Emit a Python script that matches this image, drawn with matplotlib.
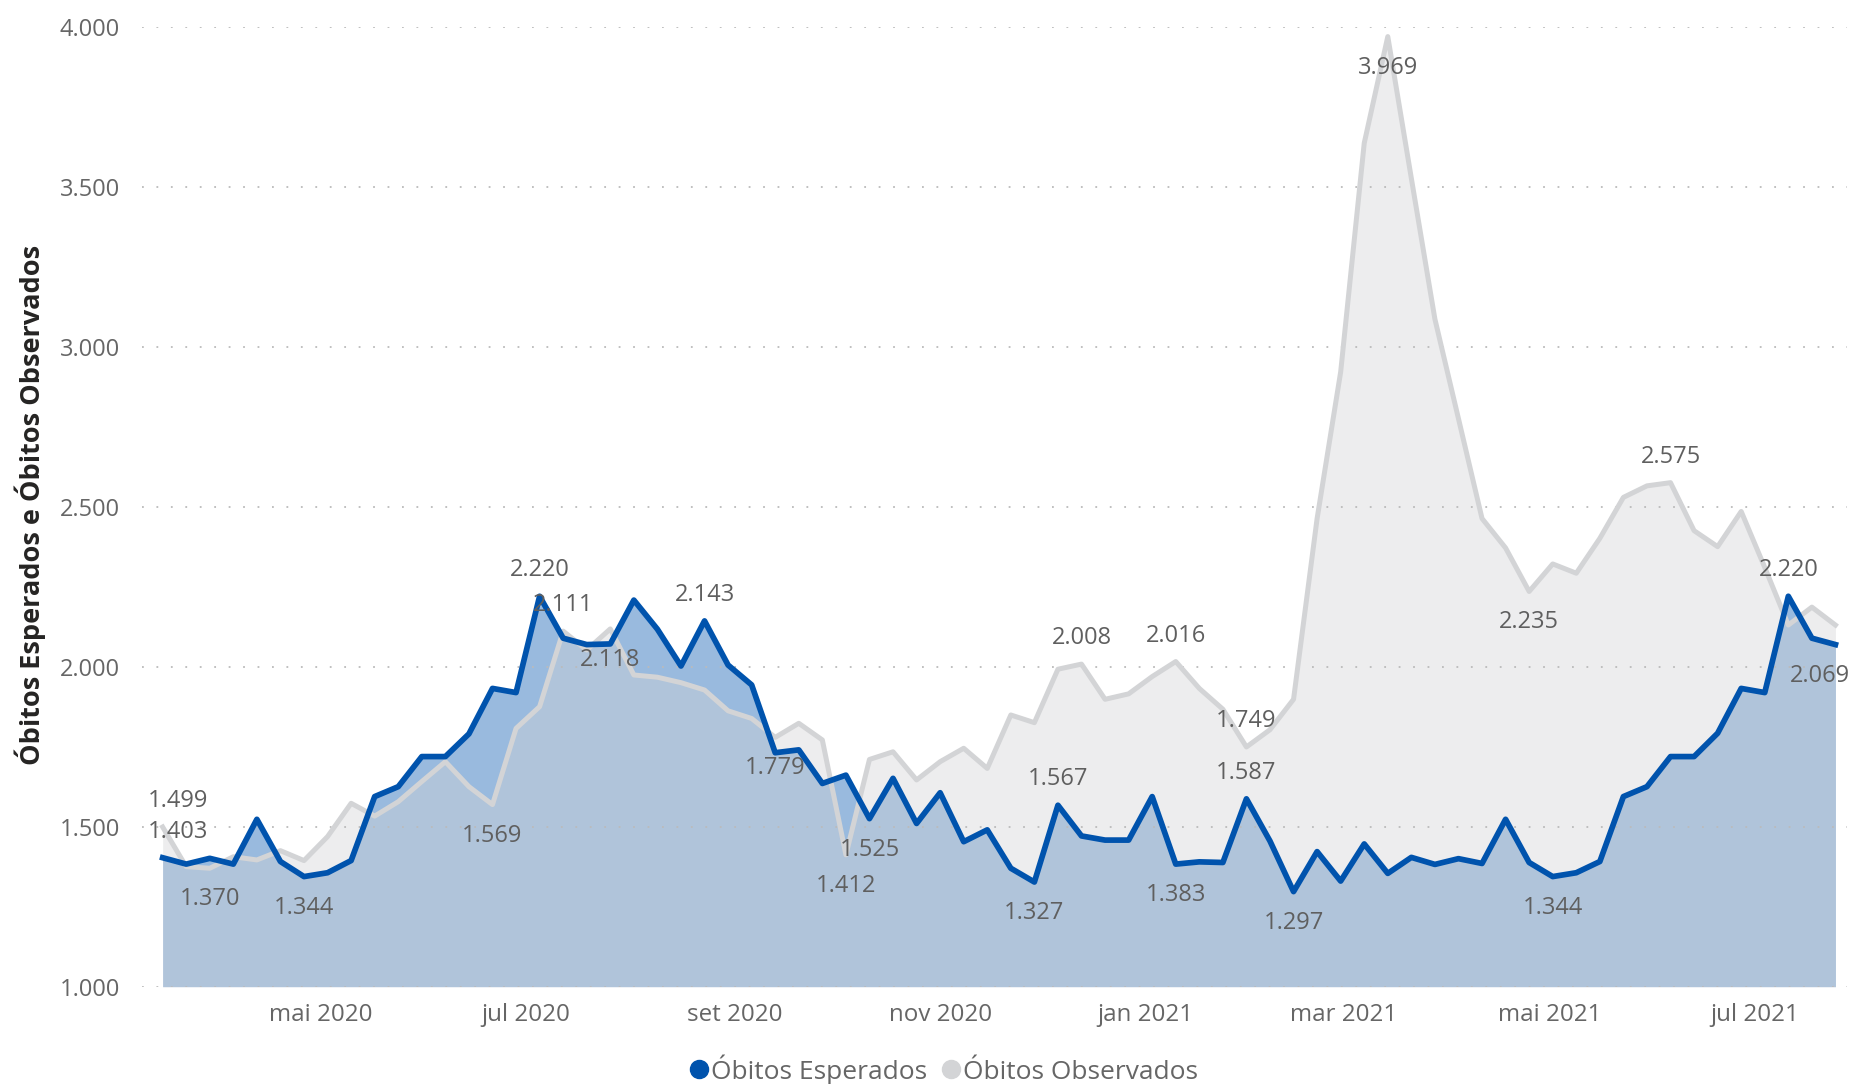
import matplotlib
matplotlib.use('Agg')
import matplotlib.pyplot as plt
import matplotlib.dates as mdates
from matplotlib.lines import Line2D
import pandas as pd

plt.rcParams['font.family'] = ['Open Sans', 'DejaVu Sans']

# semanas epidemiológicas (início no domingo)
semanas = pd.date_range('2020-03-15', periods=72, freq='7D')

obitos_esperados = [
    1403, 1383, 1401, 1383, 1523, 1391, 1344, 1356, 1394, 1594,
    1625, 1719, 1719, 1790, 1932, 1919, 2220, 2089, 2069, 2071,
    2208, 2117, 2002, 2143, 2005, 1943, 1731, 1740, 1635, 1661,
    1525, 1651, 1510, 1606, 1453, 1490, 1370, 1327, 1567, 1471,
    1458, 1458, 1594, 1383, 1390, 1388, 1587, 1455, 1297, 1422,
    1330, 1446, 1354, 1404, 1382, 1400, 1385, 1523, 1388, 1344,
    1356, 1391, 1594, 1625, 1719, 1719, 1792, 1932, 1919, 2220,
    2089, 2069,
]
obitos_observados = [
    1499, 1375, 1370, 1406, 1396, 1425, 1394, 1469, 1573, 1533,
    1578, 1641, 1703, 1625, 1569, 1807, 1875, 2111, 2052, 2118,
    1974, 1967, 1950, 1927, 1862, 1838, 1779, 1823, 1771, 1412,
    1710, 1734, 1646, 1703, 1745, 1682, 1849, 1825, 1992, 2008,
    1898, 1915, 1969, 2016, 1932, 1867, 1749, 1803, 1898, 2463,
    2921, 3636, 3969, 3526, 3086, 2775, 2463, 2371, 2235, 2321,
    2292, 2401, 2529, 2565, 2575, 2425, 2375, 2485, 2310, 2130,
    2186, 2130,
]

# rótulos de dados exibidos (índice da semana, acima/abaixo)
rotulos_esperados = [(0, 'up'), (6, 'down'), (16, 'up'), (23, 'up'), (30, 'down'),
                     (37, 'down'), (38, 'up'), (43, 'down'), (46, 'up'), (48, 'down'),
                     (59, 'down'), (69, 'up'), (71, 'down')]
rotulos_observados = [(0, 'up'), (2, 'down'), (14, 'down'), (17, 'up'), (19, 'down'),
                      (26, 'down'), (29, 'down'), (39, 'up'), (43, 'up'), (46, 'up'),
                      (52, 'down'), (58, 'down'), (64, 'up')]

meses = ['2020-05-01', '2020-07-01', '2020-09-01', '2020-11-01',
         '2021-01-01', '2021-03-01', '2021-05-01', '2021-07-01']
meses_labels = ['mai 2020', 'jul 2020', 'set 2020', 'nov 2020',
                'jan 2021', 'mar 2021', 'mai 2021', 'jul 2021']

azul = '#0053AD'
cinza = '#D3D4D6'
texto = '#666666'

fig = plt.figure(figsize=(18.53, 10.84), dpi=100)
ax = fig.add_axes([0.0766, 0.0898, 0.9201, 0.8856])

x = mdates.date2num(semanas)
base = 1000

ax.fill_between(x, base, obitos_esperados, color=azul, alpha=0.4, linewidth=0, zorder=1)
ax.fill_between(x, base, obitos_observados, color=cinza, alpha=0.4, linewidth=0, zorder=1.1)
ax.plot(x, obitos_observados, color=cinza, linewidth=3.6, solid_joinstyle='round', zorder=3, clip_on=False)
ax.plot(x, obitos_esperados, color=azul, linewidth=4.1, solid_joinstyle='round', zorder=3.1, clip_on=False)


def fmt(v):
    return f'{v:,}'.replace(',', '.')


def rotular(serie, rotulos):
    for i, pos in rotulos:
        dy = 18.7 if pos == 'up' else -22.3
        ha, dx = 'center', 0
        if i == 0:
            ha, dx = 'left', -10.8
        elif i == len(serie) - 1:
            ha, dx = 'right', 10.8
        ax.annotate(fmt(serie[i]), (x[i], serie[i]), xytext=(dx, dy),
                    textcoords='offset points', ha=ha, va='center',
                    fontsize=17, color='#5f5f5f', zorder=5, annotation_clip=False)


rotular(obitos_observados, rotulos_observados)
rotular(obitos_esperados, rotulos_esperados)

ax.set_xlim(x[0] - 6.15, x[-1] + 3.4)
ax.set_ylim(1000, 4000)
ax.set_yticks(range(1000, 4001, 500))
ax.set_yticklabels([fmt(v) for v in range(1000, 4001, 500)])
ax.set_xticks(mdates.date2num(pd.to_datetime(meses)))
ax.set_xticklabels(meses_labels)
ax.tick_params(axis='both', length=0, labelsize=17, labelcolor=texto)
ax.tick_params(axis='x', labelsize=17.4)
ax.tick_params(axis='y', pad=16)
ax.tick_params(axis='x', pad=12)

ax.set_axisbelow(False)
ax.grid(axis='y', color='#BBBBBB', linestyle=(0, (1, 7)), linewidth=1.3, zorder=2.5)
ax.grid(axis='x', visible=False)
for s in ax.spines.values():
    s.set_visible(False)

fig.text(0.0165, 0.534, 'Óbitos Esperados e Óbitos Observados', rotation=90,
         ha='center', va='center', fontsize=19.5, fontweight='bold', color='#252423')

handles = [Line2D([], [], linestyle='none', marker='o', markersize=13, color=azul),
           Line2D([], [], linestyle='none', marker='o', markersize=13, color=cinza)]
fig.legend(handles, ['Óbitos Esperados', 'Óbitos Observados'], loc='center',
           bbox_to_anchor=(0.5096, 0.0135), ncol=2, frameon=False, fontsize=19,
           labelcolor=texto, handlelength=0.6, handletextpad=0.15, columnspacing=0.6)

fig.savefig('out.png', dpi=100)
